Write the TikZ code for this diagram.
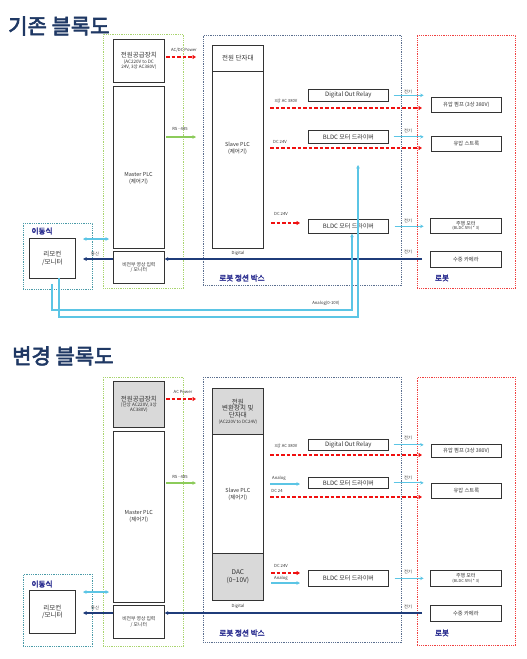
\documentclass[tikz,border=0pt]{standalone}
\usepackage{fontspec}
\setmainfont[AutoFakeBold=3]{Noto Sans CJK KR}
\usetikzlibrary{arrows.meta}
\definecolor{titlenavy}{HTML}{1F3864}
\definecolor{lblblue}{HTML}{2E3192}
\definecolor{gdotc}{HTML}{A9D46F}
\definecolor{bdotc}{HTML}{5B6F8F}
\definecolor{rdotc}{HTML}{F04040}
\definecolor{tdotc}{HTML}{4A9BA8}
\definecolor{cyanc}{HTML}{5BC5E5}
\definecolor{navyline}{HTML}{1F3C7A}
\definecolor{redc}{HTML}{F01010}
\definecolor{greenc}{HTML}{8CCB5A}
\definecolor{txt}{HTML}{333333}
\definecolor{greyfill}{HTML}{D9D9D9}
\newcommand\fs[2]{\fontsize{#1}{#2}\selectfont}
\newcommand\mybox[7][box]{\node[#1, minimum width={(#5-#3)*1pt}, minimum height={(#6-#4)*1pt}] (#2) at (#3,#4) {#7};}
\tikzset{
 box/.style={draw=txt, line width=0.7pt, anchor=north west, inner sep=0.5pt, align=center, text=txt},
 gbox/.style={box, fill=greyfill},
 dotbox/.style={anchor=north west, inner sep=0pt, line width=0.8pt, dash pattern=on 0.9pt off 0.9pt},
 gdot/.style={dotbox, draw=gdotc},
 bdot/.style={dotbox, draw=bdotc},
 rdot/.style={dotbox, draw=rdotc},
 tdot/.style={dotbox, draw=tdotc},
 title/.style={anchor=west, inner sep=0pt, text=titlenavy, font=\fs{21}{25}\bfseries},
 grp/.style={inner sep=0pt, text=lblblue, font=\fs{7.6}{9}\bfseries},
 lab/.style={inner sep=0pt, text=txt, align=center, font=\fs{4.2}{5}},
 rdash/.style={draw=redc, line width=1.5pt, dash pattern=on 3.5pt off 2pt, -{Triangle[length=3.5pt,width=4pt]}},
 cyarr/.style={draw=cyanc, line width=1.1pt, -{Stealth[length=3.5pt,width=3.5pt]}},
 cydbl/.style={draw=cyanc, line width=1.1pt, {Stealth[length=3.5pt,width=3.5pt]}-{Stealth[length=3.5pt,width=3.5pt]}},
 navarr/.style={draw=navyline, line width=1.4pt, -{Triangle[length=3.5pt,width=3.5pt]}},
 grarr/.style={draw=greenc, line width=1.1pt, -{Stealth[length=3.5pt,width=3.5pt]}},
}
\begin{document}
\begin{tikzpicture}[x=1pt,y=-1pt]
\useasboundingbox (0,0) rectangle (527,659);
\fill[white] (0,0) rectangle (527,659);

% ================= TOP: existing =================
\node[title] (t1) at (8,26) {기존 블록도};

\mybox[gdot]{gA1}{103}{34}{183}{288}{}
\mybox[bdot]{jb1}{203}{35}{401}{285}{}
\mybox[rdot]{rob1}{417}{35}{515}{288}{}
\mybox[tdot]{mob1}{23}{223}{92}{289}{}

\mybox[box,font=\fs{4.6}{5.4}]{psu1}{113}{39}{164}{82}{{\fs{6.5}{8}전원공급장치}\\(AC220V to DC\\24V, 3상 AC380V)}
\mybox[box]{mplc1}{113}{86}{164}{248}{}
\node[lab,font=\fs{5.5}{7}] (mplc1t) at (138.5,178) {Master PLC\\(제어기)};
\mybox[box,font=\fs{4.8}{5.8}]{vis1}{113}{251}{164}{283}{비전부 영상 입력\\/ 모니터}
\mybox[box,font=\fs{6.5}{8}]{term1}{212}{45}{263}{71}{전원 단자대}
\mybox[box]{splc1}{212}{71}{263}{248}{}
\node[lab,font=\fs{5.5}{7}] (splc1t) at (237.5,148) {Slave PLC\\(제어기)};
\mybox[box,font=\fs{6}{7}]{dor1}{308}{89}{388}{101}{Digital Out Relay}
\mybox[box,font=\fs{6}{7}]{bda1}{308}{130}{388}{143}{BLDC 모터 드라이버}
\mybox[box,font=\fs{6}{7}]{bdb1}{308}{219}{388}{233}{BLDC 모터 드라이버}
\mybox[box,font=\fs{5.3}{6}]{ra1}{431}{97}{501}{112}{유압 펌프 (3상 380V)}
\mybox[box,font=\fs{5.3}{6}]{rb1}{431}{136}{501}{151}{유압 스트록}
\mybox[box,font=\fs{4}{4.6}]{rc1}{430}{218}{501}{233}{{\fs{5}{5.5}주행 모터}\\(BLDC 모터 * 3)}
\mybox[box,font=\fs{5.3}{6}]{rd1}{430}{251}{501}{267}{수중 카메라}
\mybox[box,font=\fs{6.5}{7.5}]{rem1}{29}{238}{75}{278}{리모컨\\/모니터}

\node[grp] (g1a) at (42,231) {이동식};
\node[grp] (g1b) at (242,278) {로봇 정션 박스};
\node[grp] (g1c) at (442,278) {로봇};

\node[lab] (l1a) at (184,50) {AC/DC Power};
\node[lab] (l1b) at (180,129) {RS - 485};
\node[lab] (l1c) at (286,101) {3상 AC 380V};
\node[lab] (l1d) at (280,142) {DC 24V};
\node[lab] (l1e) at (281,214) {DC 24V};
\node[lab] (l1f) at (408,92) {전기};
\node[lab] (l1g) at (408,131) {전기};
\node[lab] (l1h) at (408,221) {전기};
\node[lab] (l1i) at (408,252) {전기};
\node[lab] (l1j) at (95,254) {통신};
\node[lab] (l1k) at (238,253) {Digital};
\node[lab] (l1l) at (326,303) {Analog(0-10V)};

\coordinate (p1a) at (166,57);  \coordinate (q1a) at (196,57);
\coordinate (p1b) at (166,137); \coordinate (q1b) at (196,137);
\coordinate (p1c) at (270,108); \coordinate (q1c) at (422,108);
\coordinate (p1d) at (270,148); \coordinate (q1d) at (422,148);
\coordinate (p1e) at (271,223); \coordinate (q1e) at (300,223);
\coordinate (n1) at (422,259);  \coordinate (m1) at (83,259);
\coordinate (d1a) at (83,239);  \coordinate (d1b) at (109,239);
\coordinate (an1) at (52,284);  \coordinate (an2) at (59,278);
\coordinate (an3) at (358,165);

\draw[rdash] (p1a) -- (q1a);
\draw[grarr] (p1b) -- (q1b);
\draw[rdash] (p1c) -- (q1c);
\draw[rdash] (p1d) -- (q1d);
\draw[rdash] (p1e) -- (q1e);
\draw[cyarr] ([xshift=5]dor1.east) -- ++(30,0);
\draw[cyarr] ([xshift=5]bda1.east) -- ++(30,0);
\draw[cyarr] ([xshift=6]bdb1.east) -- ++(29,0);
\draw[navarr] (n1) -- (vis1.east |- n1);
\draw[navarr] (vis1.west |- n1) -- (m1);
\draw[cydbl] (d1a) -- (d1b);
\draw[cyarr] (an1) -- (52,310) -- (352,310) -- (352,0 |- bdb1.south);
\draw[cyarr] (an2) -- (59,317) -- (358,317) -- (an3);

% ================= BOTTOM: changed =================
\node[title] (t2) at (12,356) {변경 블록도};

\mybox[gdot]{gA2}{103}{377}{183}{646}{}
\mybox[bdot]{jb2}{203}{377}{401}{642}{}
\mybox[rdot]{rob2}{417}{377}{515}{645}{}
\mybox[tdot]{mob2}{23}{574}{92}{646}{}

\mybox[gbox,font=\fs{4.6}{5.4}]{psu2}{113}{381}{164}{427}{{\fs{6.5}{8}전원공급장치}\\(단상 AC220V, 3상\\AC380V)}
\mybox[box,font=\fs{5.5}{7}]{mplc2}{113}{431}{164}{602}{Master PLC\\(제어기)}
\mybox[box,font=\fs{4.8}{5.8}]{vis2}{113}{605}{164}{638}{비전부 영상 입력\\/ 모니터}
\mybox[gbox,font=\fs{4.5}{5.5}]{term2}{212}{388}{263}{434}{{\fs{6.5}{8}전원}\\{\fs{6.5}{8}변환장치 및}\\{\fs{6.5}{8}단자대}\\(AC220V to DC24V)}
\mybox[box,font=\fs{5.5}{7}]{splc2}{212}{434}{263}{553}{Slave PLC\\(제어기)}
\mybox[gbox,font=\fs{6.5}{8}]{dac2}{212}{553}{263}{600}{DAC\\(0{\textasciitilde}10V)}
\mybox[box,font=\fs{6}{7}]{dor2}{308}{439}{388}{450}{Digital Out Relay}
\mybox[box,font=\fs{6}{7}]{bda2}{308}{477}{388}{488}{BLDC 모터 드라이버}
\mybox[box,font=\fs{6}{7}]{bdb2}{308}{570}{388}{586}{BLDC 모터 드라이버}
\mybox[box,font=\fs{5.3}{6}]{ra2}{431}{444}{501}{457}{유압 펌프 (3상 380V)}
\mybox[box,font=\fs{5.3}{6}]{rb2}{431}{483}{501}{498}{유압 스트록}
\mybox[box,font=\fs{4}{4.6}]{rc2}{430}{570}{501}{586}{{\fs{5}{5.5}주행 모터}\\(BLDC 모터 * 3)}
\mybox[box,font=\fs{5.3}{6}]{rd2}{430}{605}{501}{621}{수중 카메라}
\mybox[box,font=\fs{6.5}{7.5}]{rem2}{29}{590}{75}{633}{리모컨\\/모니터}

\node[grp] (g2a) at (42,584) {이동식};
\node[grp] (g2b) at (242,633) {로봇 정션 박스};
\node[grp] (g2c) at (442,633) {로봇};

\node[lab] (l2a) at (183,392) {AC Power};
\node[lab] (l2b) at (180,477) {RS - 485};
\node[lab] (l2c) at (286,446) {3상 AC 380V};
\node[lab] (l2d) at (279,478) {Analog};
\node[lab] (l2e) at (277,491) {DC 24};
\node[lab] (l2f) at (281,566) {DC 24V};
\node[lab] (l2g) at (281,578.5) {Analog};
\node[lab] (l2h) at (408,438) {전기};
\node[lab] (l2i) at (408,478) {전기};
\node[lab] (l2j) at (408,572) {전기};
\node[lab] (l2k) at (408,607) {전기};
\node[lab] (l2l) at (95,608) {통신};
\node[lab] (l2m) at (238,606) {Digital};

\coordinate (p2a) at (166,399); \coordinate (q2a) at (196,399);
\coordinate (p2b) at (166,483); \coordinate (q2b) at (196,483);
\coordinate (p2c) at (270,455); \coordinate (q2c) at (422,455);
\coordinate (p2d) at (270,484); \coordinate (q2d) at (300,484);
\coordinate (p2e) at (270,497); \coordinate (q2e) at (422,497);
\coordinate (p2f) at (271,573); \coordinate (q2f) at (300,573);
\coordinate (p2g) at (271,583); \coordinate (q2g) at (300,583);
\coordinate (n2) at (422,613);  \coordinate (m2) at (83,613);
\coordinate (d2a) at (83,592);  \coordinate (d2b) at (109,592);

\draw[rdash] (p2a) -- (q2a);
\draw[grarr] (p2b) -- (q2b);
\draw[rdash] (p2c) -- (q2c);
\draw[cyarr] (p2d) -- (q2d);
\draw[rdash] (p2e) -- (q2e);
\draw[rdash] (p2f) -- (q2f);
\draw[cyarr] (p2g) -- (q2g);
\draw[cyarr] ([xshift=5]dor2.east) -- ++(30,0);
\draw[cyarr] ([xshift=5]bda2.east) -- ++(30,0);
\draw[cyarr] ([xshift=6]bdb2.east) -- ++(29,0);
\draw[navarr] (n2) -- (vis2.east |- n2);
\draw[navarr] (vis2.west |- n2) -- (m2);
\draw[cydbl] (d2a) -- (d2b);
\end{tikzpicture}
\end{document}
